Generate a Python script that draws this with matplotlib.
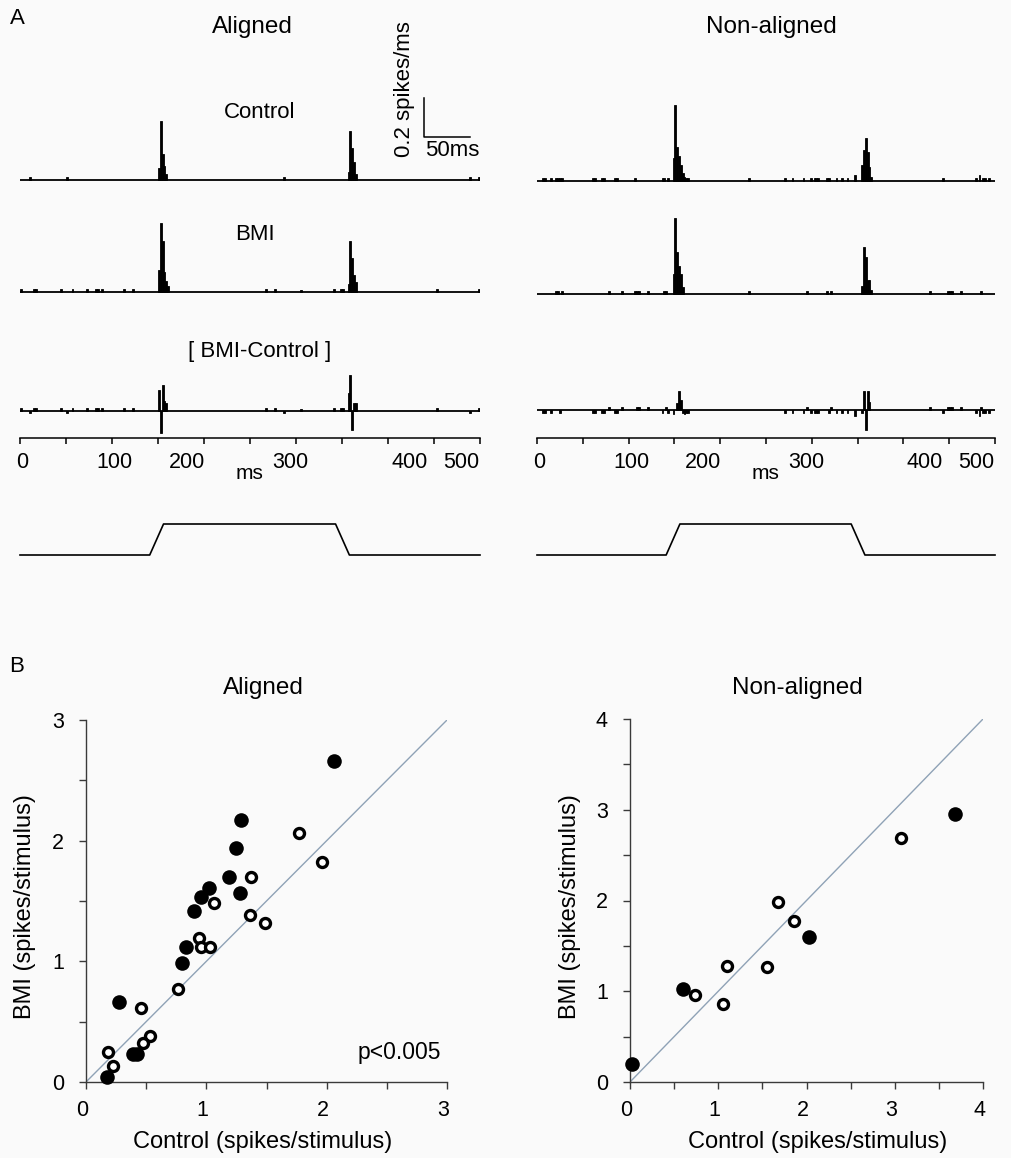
import numpy as np
import matplotlib
matplotlib.use("Agg")
import matplotlib.pyplot as plt
from matplotlib.transforms import ScaledTranslation

plt.rcParams['font.family'] = ['Liberation Sans', 'DejaVu Sans']

W, H = 1011, 1158
BG = '#fafafa'

# ---- PSTH data: bin start (ms, 2 ms bins) and rate (spikes/ms) ----
bin_w = 2

ctrl_al_t = [10, 50, 150, 152, 154, 156, 158, 286, 356, 358, 360, 362, 364, 488, 498]
ctrl_al_h = [0.013, 0.013, 0.06, 0.30, 0.13, 0.07, 0.03, 0.013, 0.04, 0.25, 0.16, 0.09, 0.03, 0.013, 0.015]

bmi_al_t = [0, 14, 16, 44, 56, 72, 82, 84, 88, 112, 122, 150, 152, 154, 156, 158, 160,
            266, 276, 304, 340, 348, 350, 356, 358, 360, 362, 364, 452, 498]
bmi_al_h = [0.013, 0.015, 0.015, 0.013, 0.013, 0.013, 0.015, 0.015, 0.013, 0.015, 0.013,
            0.11, 0.35, 0.26, 0.10, 0.055, 0.03,
            0.015, 0.013, 0.006, 0.013, 0.015, 0.013, 0.04, 0.26, 0.17, 0.085, 0.05, 0.013, 0.015]

diff_al_t = [0, 10, 14, 16, 44, 50, 56, 72, 82, 84, 88, 112, 122, 150, 152, 154, 156, 158,
             266, 276, 286, 304, 340, 348, 350, 356, 358, 360, 362, 364, 452, 488, 498]
diff_al_h = [0.013, -0.013, 0.015, 0.015, 0.013, -0.013, 0.013, 0.013, 0.015, 0.015, 0.013,
             0.015, 0.013, 0.105, -0.115, 0.13, 0.05, 0.04,
             0.015, 0.013, -0.013, 0.006, 0.013, 0.015, 0.013, 0.09, 0.18, -0.10, 0.04, 0.04,
             0.013, -0.013, 0.015]

ctrl_na_t = [6, 8, 14, 20, 22, 24, 26, 60, 62, 70, 72, 84, 86, 106, 136, 138, 142,
             148, 150, 152, 154, 156, 158, 160, 162, 164,
             230, 270, 278, 290, 298, 302, 304, 306, 316, 318, 326, 332, 338, 346,
             354, 356, 358, 360, 362, 364, 442, 478, 482, 486, 488, 492]
ctrl_na_h = [0.013, 0.013, 0.013, 0.013, 0.013, 0.013, 0.013, 0.013, 0.013, 0.013, 0.013,
             0.013, 0.013, 0.013, 0.013, 0.013, 0.013,
             0.12, 0.39, 0.175, 0.13, 0.08, 0.04, 0.02, 0.015, 0.015,
             0.013, 0.013, 0.013, 0.013, 0.013, 0.013, 0.013, 0.013, 0.013, 0.013, 0.013,
             0.013, 0.013, 0.03,
             0.08, 0.16, 0.22, 0.15, 0.07, 0.02, 0.013, 0.013, 0.03, 0.013, 0.013, 0.013]

bmi_na_t = [20, 22, 26, 78, 92, 106, 108, 110, 120, 138, 140,
            148, 150, 152, 154, 156, 158, 230, 294, 316, 320,
            354, 356, 358, 360, 362, 364, 428, 448, 450, 452, 462, 484]
bmi_na_h = [0.013, 0.013, 0.013, 0.013, 0.013, 0.013, 0.013, 0.013, 0.013, 0.013, 0.013,
            0.10, 0.385, 0.215, 0.14, 0.10, 0.035, 0.013, 0.013, 0.013, 0.013,
            0.04, 0.24, 0.185, 0.07, 0.07, 0.02, 0.013, 0.013, 0.013, 0.013, 0.013, 0.013]

diff_na_t = [6, 8, 14, 24, 60, 62, 70, 72, 78, 84, 86, 92, 108, 110, 120, 136, 140, 142,
             148, 152, 154, 156, 158, 160, 162, 164,
             270, 278, 290, 294, 298, 302, 304, 306, 318, 320, 326, 332, 338, 346,
             354, 356, 358, 360, 362, 428, 442, 448, 450, 452, 462, 478, 482, 484, 486, 488, 492]
diff_na_h = [-0.013, -0.013, -0.013, -0.013, -0.013, -0.013, -0.013, -0.013, 0.013, -0.013,
             -0.013, 0.013, 0.013, 0.013, 0.013, -0.013, 0.013, -0.013,
             -0.02, 0.035, 0.10, 0.05, -0.015, -0.02, -0.015, -0.015,
             -0.013, -0.013, -0.013, 0.013, -0.013, -0.013, -0.013, -0.013, -0.013, 0.013,
             -0.013, -0.013, -0.013, -0.03,
             -0.015, 0.10, -0.10, 0.10, 0.04, 0.013, -0.013, 0.013, 0.013, 0.013, 0.013,
             -0.013, -0.03, 0.013, -0.013, -0.013, -0.013]

time_labels = ['0', '100', '200', '300', '400', '500']
# where each time label sits along the 0-500 ms axis (labels are hand placed)
time_label_pos = [2, 103, 181, 294, 423, 480]

# stimulus time course (ms, normalised level)
stim_t = [0, 141, 156, 343, 358, 500]
stim_lv = [0, 0, 1, 1, 0, 0]

# ---- scatter data (spikes/stimulus) ----
al_fill_ctrl = [2.06, 1.29, 1.245, 1.19, 1.28, 1.02, 0.957, 0.90, 0.83, 0.796, 0.277, 0.388, 0.42, 0.177]
al_fill_bmi = [2.66, 2.17, 1.94, 1.695, 1.57, 1.61, 1.53, 1.42, 1.12, 0.99, 0.66, 0.235, 0.235, 0.04]
al_open_ctrl = [1.77, 1.96, 1.37, 1.06, 1.36, 1.49, 0.94, 0.954, 1.03, 0.768, 0.455, 0.532, 0.477, 0.186, 0.222]
al_open_bmi = [2.06, 1.82, 1.695, 1.48, 1.38, 1.32, 1.19, 1.12, 1.12, 0.77, 0.617, 0.379, 0.326, 0.249, 0.13]

na_fill_ctrl = [3.68, 2.03, 0.596, 0.026]
na_fill_bmi = [2.955, 1.60, 1.03, 0.20]
na_open_ctrl = [3.07, 1.68, 1.86, 1.10, 1.555, 0.736, 1.05]
na_open_bmi = [2.69, 1.98, 1.77, 1.28, 1.27, 0.957, 0.854]

fig = plt.figure(figsize=(W / 100, H / 100), dpi=100, facecolor=BG)


def px_axes(x0, y0, x1, y1):
    return fig.add_axes([x0 / W, 1 - y1 / H, (x1 - x0) / W, (y1 - y0) / H])


def px_text(x, y, s, **kw):
    kw.setdefault('ha', 'center')
    kw.setdefault('va', 'center')
    return fig.text(x / W, 1 - y / H, s, **kw)


px_per_rate = 195.0   # pixels per spikes/ms
ylo, yhi = -0.2, 0.45


def psth(x0, x1, base, t, h):
    ax = px_axes(x0, base - yhi * px_per_rate, x1, base - ylo * px_per_rate)
    ax.set_xlim(0, 500)
    ax.set_ylim(ylo, yhi)
    ax.axis('off')
    ax.patch.set_alpha(0)
    ax.bar(t, h, width=bin_w, align='edge', color='k', edgecolor='k', linewidth=0.6)
    ax.plot([0, 500], [0, 0], color='k', lw=1.3, solid_capstyle='butt')
    return ax


def time_axis(x0, x1, y):
    ax = px_axes(x0, y - 30, x1, y)
    ax.set_xlim(0, 500)
    ax.patch.set_alpha(0)
    for s in ['top', 'left', 'right']:
        ax.spines[s].set_visible(False)
    ax.spines['bottom'].set_linewidth(1.1)
    ax.set_yticks([])
    ax.set_xticks(np.arange(0, 501, 50))
    ax.set_xticklabels([])
    ax.tick_params(axis='x', direction='out', length=4, width=1.1)
    tr = ax.get_xaxis_transform()
    for pos, lbl in zip(time_label_pos, time_labels):
        ax.text(pos, -0.83, lbl, transform=tr, ha='center', va='center', fontsize=15.5)
    ax.text(249, -1.17, 'ms', transform=tr, ha='center', va='center', fontsize=15)
    return ax


def stimulus(x0, x1):
    ax = px_axes(x0, 524, x1, 555)
    ax.set_xlim(0, 500)
    ax.set_ylim(0, 1)
    ax.axis('off')
    ax.patch.set_alpha(0)
    ax.plot(stim_t, stim_lv, color='k', lw=1.2, clip_on=False)


# panel A, aligned
ax_c = psth(20, 480, 179.5, ctrl_al_t, ctrl_al_h)
psth(20, 480, 291.5, bmi_al_t, bmi_al_h)
psth(20, 480, 410.5, diff_al_t, diff_al_h)
time_axis(20, 480, 438)
stimulus(20, 480)

# scale bar: 50 ms by 0.2 spikes/ms
ax_c.plot([439, 439, 489], [0.418, 0.218, 0.218], color='k', lw=1.1, clip_on=False)
px_text(415, 157, '0.2 spikes/ms', rotation=90, ha='right', va='bottom', fontsize=16)
px_text(425, 151, '50ms', ha='left', fontsize=16)

# panel A, non-aligned
psth(537, 995, 181, ctrl_na_t, ctrl_na_h)
psth(537, 995, 293.5, bmi_na_t, bmi_na_h)
psth(537, 995, 410, diff_na_t, diff_na_h)
time_axis(537, 995, 438)
stimulus(537, 995)

px_text(17, 18, 'A', fontsize=16)
px_text(252, 27, 'Aligned', fontsize=17.5)
px_text(771, 27, 'Non-aligned', fontsize=17.5)
px_text(260, 113, 'Control', fontsize=16)
px_text(255, 234, 'BMI', fontsize=16)
px_text(260, 352, '[ BMI-Control ]', fontsize=16)


# panel B scatter plots
def scatter_panel(x0, y0, x1, y1, lim, fx, fy, ox, oy):
    ax = px_axes(x0, y0, x1, y1)
    ax.patch.set_alpha(0)
    ax.set_xlim(0, lim)
    ax.set_ylim(0, lim)
    ax.plot([0, lim], [0, lim], color='#8fa2b6', lw=1.0, zorder=1)
    ax.plot(fx, fy, 'o', ms=10.5, color='k', mec='k', mew=0, clip_on=False, zorder=3)
    ax.plot(ox, oy, 'o', ms=7.2, mfc='white', mec='k', mew=2.4, clip_on=False, zorder=3)
    for s in ['top', 'right']:
        ax.spines[s].set_visible(False)
    for s in ['left', 'bottom']:
        ax.spines[s].set_color('#3a3a3a')
        ax.spines[s].set_linewidth(1.0)
    ax.set_xticks(np.arange(0, lim + 0.01, 1))
    ax.set_yticks(np.arange(0, lim + 0.01, 1))
    ax.set_xticks(np.arange(0.5, lim, 1), minor=True)
    ax.set_yticks(np.arange(0.5, lim, 1), minor=True)
    ax.tick_params(which='both', direction='out', length=5, width=1.0, color='#3a3a3a')
    ax.tick_params(axis='x', labelsize=15.5, pad=8)
    ax.tick_params(axis='y', labelsize=15.5, pad=11)
    shift = ScaledTranslation(-4 / 100, 0, fig.dpi_scale_trans)
    for lbl in ax.get_xticklabels():
        lbl.set_transform(lbl.get_transform() + shift)
    return ax


ax_l = scatter_panel(86, 720, 447, 1082, 3, al_fill_ctrl, al_fill_bmi, al_open_ctrl, al_open_bmi)
ax_l.text(2.95, 0.245, 'p<0.005', ha='right', va='center', fontsize=16.5)
scatter_panel(630, 719, 983, 1082, 4, na_fill_ctrl, na_fill_bmi, na_open_ctrl, na_open_bmi)

px_text(17, 667, 'B', fontsize=16)
px_text(263, 688, 'Aligned', fontsize=17.5)
px_text(797, 688, 'Non-aligned', fontsize=17.5)
px_text(25, 907, 'BMI (spikes/stimulus)', rotation=90, fontsize=17)
px_text(570, 907, 'BMI (spikes/stimulus)', rotation=90, fontsize=17)
px_text(263, 1142, 'Control (spikes/stimulus)', fontsize=17)
px_text(818, 1142, 'Control (spikes/stimulus)', fontsize=17)

fig.savefig('out.png', dpi=100, facecolor=BG)
